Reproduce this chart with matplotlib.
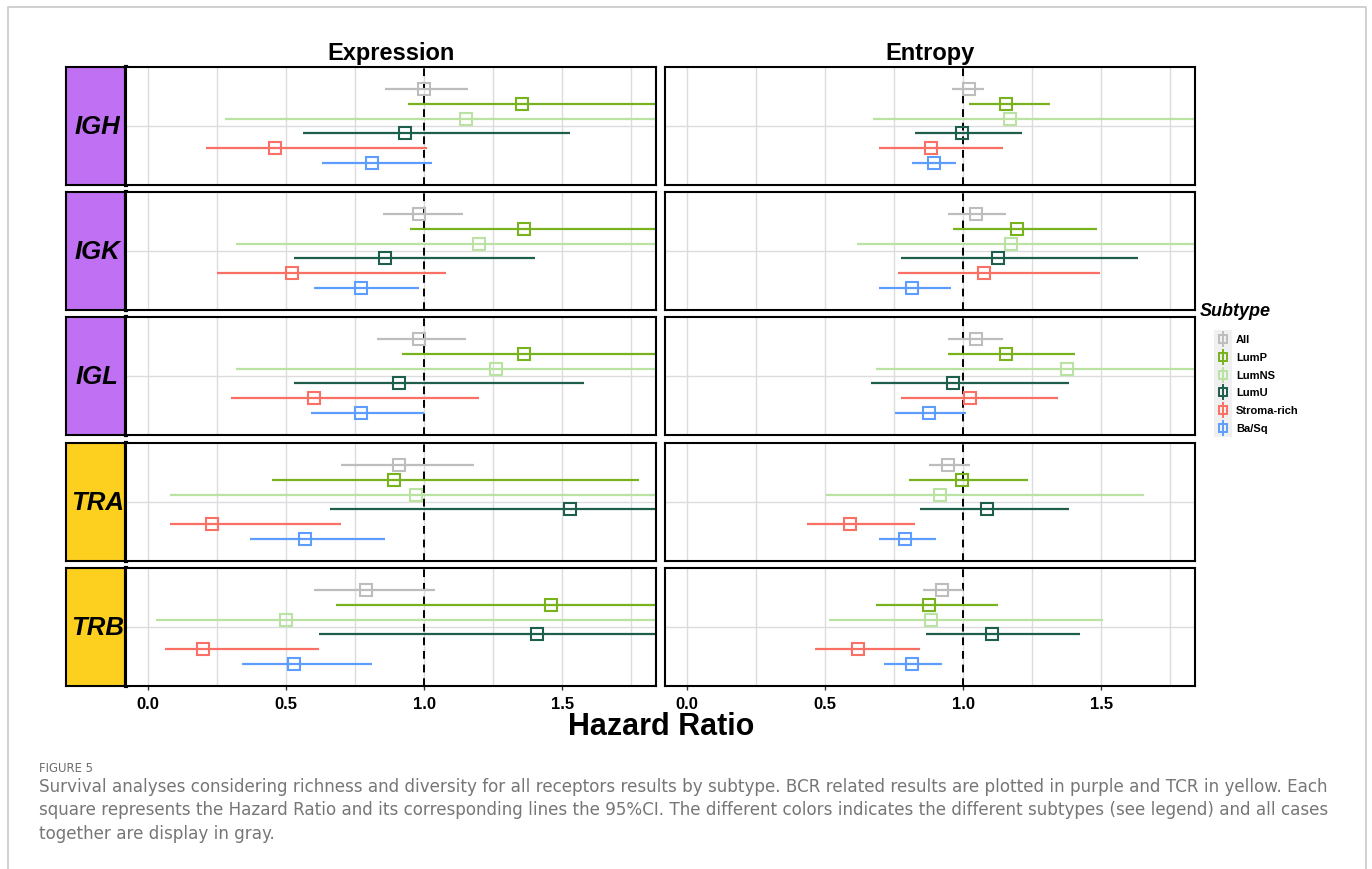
import matplotlib
matplotlib.use("Agg")
import matplotlib.pyplot as plt
from matplotlib.patches import Rectangle

plt.rcParams["font.family"] = ["Liberation Sans", "DejaVu Sans"]

W, H = 1372, 870

receptors = ["IGH", "IGK", "IGL", "TRA", "TRB"]
strip_colors = ["#c070f2", "#c070f2", "#c070f2", "#fdd01f", "#fdd01f"]
subtypes = ["All", "LumP", "LumNS", "LumU", "Stroma-rich", "Ba/Sq"]
subtype_colors = ["#bdbdbd", "#78b21c", "#b9e2a3", "#1d5e4c", "#fb7064", "#5d9dff"]

# Expression: hazard ratio and 95% CI, one row per receptor, columns follow subtypes
expr_hr = [
    [1.00, 1.355, 1.15, 0.93, 0.46, 0.81],
    [0.98, 1.36, 1.20, 0.86, 0.52, 0.77],
    [0.98, 1.36, 1.26, 0.91, 0.60, 0.77],
    [0.91, 0.89, 0.97, 1.53, 0.23, 0.57],
    [0.79, 1.46, 0.50, 1.41, 0.20, 0.53],
]
expr_lo = [
    [0.86, 0.94, 0.28, 0.56, 0.21, 0.63],
    [0.85, 0.95, 0.32, 0.53, 0.25, 0.60],
    [0.83, 0.92, 0.32, 0.53, 0.30, 0.59],
    [0.70, 0.45, 0.08, 0.66, 0.08, 0.37],
    [0.60, 0.68, 0.03, 0.62, 0.06, 0.34],
]
expr_hi = [
    [1.16, 2.20, 2.60, 1.53, 1.01, 1.03],
    [1.14, 2.30, 2.80, 1.40, 1.08, 0.98],
    [1.15, 2.30, 3.00, 1.58, 1.20, 1.00],
    [1.18, 1.78, 3.50, 2.90, 0.70, 0.86],
    [1.04, 2.60, 3.20, 2.80, 0.62, 0.81],
]

# Entropy
ent_hr = [
    [1.02, 1.155, 1.17, 0.995, 0.885, 0.895],
    [1.045, 1.195, 1.175, 1.125, 1.075, 0.815],
    [1.045, 1.155, 1.375, 0.965, 1.025, 0.875],
    [0.945, 0.995, 0.915, 1.085, 0.59, 0.79],
    [0.925, 0.875, 0.885, 1.105, 0.62, 0.815],
]
ent_lo = [
    [0.96, 1.02, 0.675, 0.825, 0.695, 0.815],
    [0.945, 0.965, 0.615, 0.775, 0.765, 0.695],
    [0.945, 0.945, 0.685, 0.665, 0.775, 0.755],
    [0.875, 0.805, 0.505, 0.845, 0.435, 0.695],
    [0.855, 0.685, 0.515, 0.865, 0.465, 0.715],
]
ent_hi = [
    [1.075, 1.315, 2.00, 1.215, 1.145, 0.975],
    [1.155, 1.485, 2.10, 1.635, 1.495, 0.955],
    [1.145, 1.405, 2.50, 1.385, 1.345, 1.01],
    [1.025, 1.235, 1.655, 1.385, 0.825, 0.90],
    [1.00, 1.125, 1.505, 1.425, 0.845, 0.925],
]

x_ticks = [0.0, 0.5, 1.0, 1.5]
caption_head = "FIGURE 5"
caption_lines = [
    "Survival analyses considering richness and diversity for all receptors results by subtype. "
    "BCR related results are plotted in purple and TCR in yellow. Each",
    "square represents the Hazard Ratio and its corresponding lines the 95%CI. The different "
    "colors indicates the different subtypes (see legend) and all cases",
    "together are display in gray.",
]

fig = plt.figure(figsize=(W / 100, H / 100), dpi=100)


def px_axes(x0, y0, x1, y1):
    return fig.add_axes([x0 / W, 1 - y1 / H, (x1 - x0) / W, (y1 - y0) / H])


row_tops = [68, 193, 318, 444, 569]
row_h = 118
cols = [(126, 656, expr_hr, expr_lo, expr_hi, "Expression"),
        (665, 1195, ent_hr, ent_lo, ent_hi, "Entropy")]
step = 0.151
offsets = [(k - 2.5) * step for k in range(len(subtypes))]

for r, rec in enumerate(receptors):
    top = row_tops[r]
    # facet strip
    sax = px_axes(66, top, 126, top + row_h)
    sax.set_facecolor(strip_colors[r])
    sax.set_xticks([]); sax.set_yticks([])
    for s in sax.spines.values():
        s.set_linewidth(1.5)
    sax.spines["right"].set_linewidth(3)
    sax.text(0.52, 0.5, rec, transform=sax.transAxes, ha="center", va="center",
             fontsize=18.5, fontweight="bold", fontstyle="italic")

    for c, (x0, x1, hr, lo, hi, title) in enumerate(cols):
        ax = px_axes(x0, top, x1, top + row_h)
        ax.set_xlim(-0.08, 1.84)
        ax.set_ylim(0.6, -0.6)
        for g in [0, 0.25, 0.5, 0.75, 1.0, 1.25, 1.5, 1.75]:
            ax.axvline(g, color="#dcdcdc", lw=1, zorder=0)
        ax.axhline(0, color="#dcdcdc", lw=1, zorder=0)
        ax.axvline(1.0, color="black", lw=1.4, ls=(0, (4, 3)), zorder=1)
        for k, col in enumerate(subtype_colors):
            y = offsets[k]
            ax.plot([lo[r][k], hi[r][k]], [y, y], color=col, lw=1.6, zorder=2,
                    solid_capstyle="butt")
            ax.plot(hr[r][k], y, marker="s", ms=8.5, mfc="none", mec=col, mew=1.5,
                    zorder=3)
        for s in ax.spines.values():
            s.set_linewidth(1.5)
        ax.set_yticks([])
        ax.set_xticks(x_ticks)
        if r == len(receptors) - 1:
            ax.set_xticklabels([f"{t:.1f}" for t in x_ticks], fontsize=12,
                               fontweight="bold")
            ax.tick_params(axis="x", length=3, width=1, color="#333333", pad=4)
        else:
            ax.tick_params(axis="x", length=0, labelbottom=False)
        if r == 0:
            ax.set_title(title, fontsize=17, fontweight="bold", pad=6)

# overlay for legend, axis title, caption and frame
ov = fig.add_axes([0, 0, 1, 1], zorder=-1)
ov.set_xlim(0, W); ov.set_ylim(H, 0)
ov.axis("off")
ov.plot([8, 8, 1366, 1366], [H, 8, 8, H], color="#c8c8c8", lw=1.2)

ov.text(661, 727, "Hazard Ratio", ha="center", va="center", fontsize=22,
        fontweight="bold")

ov.text(1200, 312, "Subtype", ha="left", va="center", fontsize=13,
        fontweight="bold", fontstyle="italic")
ov.add_patch(Rectangle((1214, 331), 18, 107, color="#f0f0f0", lw=0))
for k, (name, col) in enumerate(zip(subtypes, subtype_colors)):
    y = 340 + 17.8 * k
    ov.plot([1223, 1223], [y - 7, y + 7], color=col, lw=1.4)
    ov.plot(1223, y, marker="s", ms=6, mfc="none", mec=col, mew=1.4)
    ov.text(1236, y, name, ha="left", va="center", fontsize=8, fontweight="bold")

# caption, sized so the first line spans the same width as in the figure
cap_font = ["DejaVu Sans"]
head = ov.text(39, 772, caption_head, ha="left", va="baseline", fontsize=8,
               color="#6e6e6e", family=cap_font)
cap = [ov.text(39, 792 + 23.5 * i, line, ha="left", va="baseline", fontsize=10,
               color="#767676", family=cap_font)
       for i, line in enumerate(caption_lines)]
fig.canvas.draw()
rend = fig.canvas.get_renderer()
scale = 1287 / cap[0].get_window_extent(rend).width
for t in cap:
    t.set_fontsize(10 * scale)
head.set_fontsize(8 * 54 / head.get_window_extent(rend).width)

fig.savefig("out.png", dpi=100)
